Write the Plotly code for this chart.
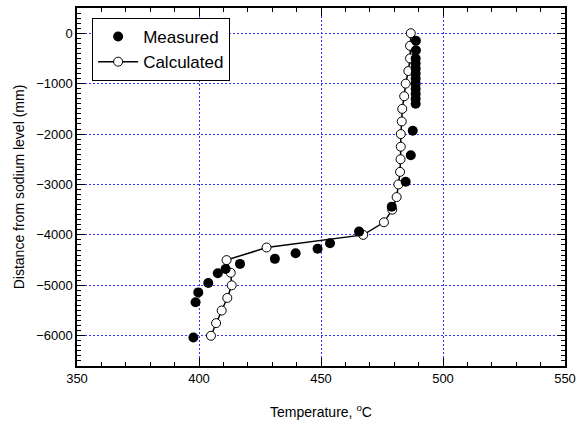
import plotly.graph_objects as go

# Measured data
meas_temp = [488.9, 488.9, 488.8, 488.8, 488.8, 488.8, 488.8, 488.8, 488.8, 488.8, 488.8, 488.8,
             487.6, 486.8, 484.7, 479.0, 465.6, 453.7, 448.6, 439.6, 431.1, 416.8, 410.9,
             407.7, 403.8, 399.7, 398.6, 397.7]
meas_depth = [-150, -340, -500, -600, -700, -800, -900, -1000, -1100, -1200, -1300, -1400,
              -1935, -2420, -2945, -3440, -3935, -4165, -4275, -4365, -4475, -4575, -4675,
              -4760, -4955, -5140, -5335, -6035]

# Calculated data
calc_temp = [486.8, 486.5, 486.5, 485.8, 484.7, 484.1, 483.3, 483.1, 482.7, 482.7, 482.6,
             482.4, 481.7, 481.0, 479.2, 475.8, 467.3, 427.7, 411.3, 413.0, 413.4, 411.6,
             409.3, 407.0, 404.9]
calc_depth = [0, -250, -500, -750, -1000, -1250, -1500, -1750, -2000, -2250, -2500,
              -2750, -3000, -3250, -3500, -3750, -4000, -4250, -4500, -4750, -5000, -5250,
              -5500, -5750, -6000]

FONT = "Liberation Sans, Arial, sans-serif"

fig = go.Figure()
fig.add_trace(go.Scatter(
    x=calc_temp, y=calc_depth, mode="lines+markers", name="Calculated",
    line=dict(color="black", width=1.5),
    marker=dict(symbol="circle", size=9, color="white", line=dict(color="black", width=1)),
))
fig.add_trace(go.Scatter(
    x=meas_temp, y=meas_depth, mode="markers", name="Measured",
    marker=dict(symbol="circle", size=10, color="black", line=dict(color="black", width=0)),
))

axis_common = dict(
    showline=True, linecolor="black", linewidth=1.5, mirror="allticks",
    ticks="inside", ticklen=8, tickwidth=1.2, tickcolor="black",
    showgrid=True, gridcolor="rgb(50,50,255)", gridwidth=1, griddash="2px,2px",
    zeroline=False, automargin=False,
    tickfont=dict(family=FONT, size=13, color="black"),
)

fig.update_xaxes(
    range=[350, 550], dtick=50, tick0=350,
    minor=dict(dtick=10, ticks="inside", ticklen=4, tickcolor="black", showgrid=False),
    title=dict(text="Temperature, <sup>o</sup>C", font=dict(family=FONT, size=14, color="black"), standoff=22),
    **axis_common,
)
fig.update_yaxes(
    range=[-6600, 500], dtick=1000, tick0=0,
    minor=dict(dtick=100, ticks="inside", ticklen=4, tickcolor="black", showgrid=False),
    title=dict(text="Distance from sodium level (mm)", font=dict(family=FONT, size=14, color="black"), standoff=8),
    **axis_common,
)

fig.update_layout(
    width=577, height=430,
    margin=dict(l=77, r=12, t=8, b=64),
    plot_bgcolor="white", paper_bgcolor="white",
    font=dict(family=FONT, size=13, color="black"),
    showlegend=True,
    legend=dict(
        x=0.031, y=0.972, xanchor="left", yanchor="top",
        bgcolor="white", bordercolor="black", borderwidth=1,
        font=dict(family=FONT, size=17, color="black"),
        traceorder="reversed", itemwidth=40, tracegroupgap=0,
    ),
)

fig.write_html(
    "out.html",
    config={"displayModeBar": False},
    post_script="document.body.style.margin='0';document.body.style.overflow='hidden';",
)
